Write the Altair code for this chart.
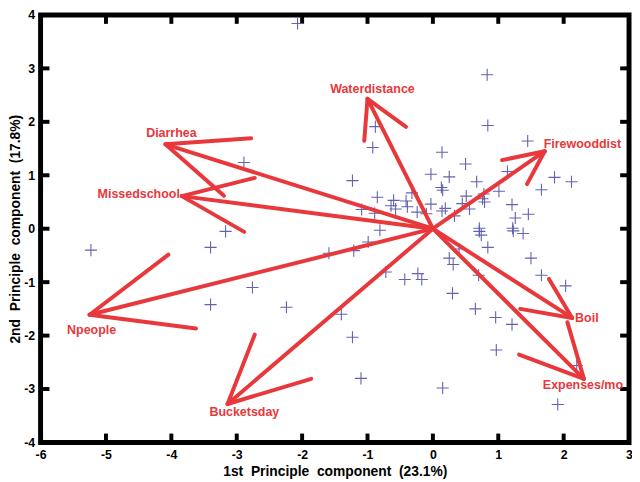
import math
import altair as alt
import pandas as pd

# ---- principal component scores (observations) ----
PC1 = [-2.07, 0.83, 0.84, 1.45, -0.92, -0.88, -2.89, -3.17, -3.40, -5.23,
       -2.76, -3.40, -2.24, -1.59, -1.21, -0.99, -0.81, -0.72, -0.43, -0.23,
       -0.17, -1.40, -1.23, -1.10, 0.15, 0.97, 1.21, 2.20, 1.91, 0.96,
       0.65, 0.30, 0.70, 0.25, 0.31, 0.40, 0.84, 1.50, 1.66, 2.03,
       0.71, 0.74, 1.23, 1.38, -1.23, -0.85, -0.60, -0.41, -0.32, -0.64,
       -0.57, -1.09, -0.89, -0.39, -0.24, -0.10, -0.03, -0.03, 0.14, 0.50,
       0.25, 0.67, 0.13, 0.15, 1.14, 1.01, 0.78, 0.51, 0.45, 0.79,
       0.56, 1.21, 1.26, 1.46, 1.66, 1.86, 2.12, 0.14, 0.19, 0.33,
       0.71, 1.22, 0.76]
PC2 = [3.84, 2.88, 1.93, 1.64, 1.52, 1.91, 1.24, -0.05, -0.35, -0.40,
       -1.10, -1.42, -1.47, -0.46, -0.41, -0.25, -0.03, -0.81, -0.95, -0.84,
       -0.95, -1.60, -2.03, -2.80, -2.98, -2.27, -1.79, -2.56, -3.29, -1.66,
       -1.50, -1.21, -0.87, -0.55, -0.67, -0.38, -0.35, -0.55, -0.87, -1.07,
       -0.05, -0.12, -0.04, -0.09, 0.90, 0.59, 0.53, 0.52, 0.67, 0.43,
       0.37, 0.36, 0.29, 0.41, 0.31, 0.28, 1.02, 0.46, 1.43, 1.21,
       0.97, 0.88, 0.77, 0.72, 1.07, 0.70, 0.65, 0.61, 0.47, 0.50,
       0.37, 0.45, 0.20, 0.27, 0.73, 0.96, 0.88, 0.33, 0.38, 0.24,
       0.01, 0.01, 0.56]

# ---- variable loadings (arrow tips) ----
VAR_NAMES = ["Waterdistance", "Firewooddist", "Diarrhea", "Missedschool",
             "Npeople", "Bucketsday", "Boil", "Expenses/mo"]
LOAD1 = [-1.00, 1.71, -4.09, -3.84, -5.25, -3.14, 2.13, 2.31]
LOAD2 = [2.43, 1.45, 1.58, 0.61, -1.61, -3.28, -1.67, -2.81]

X_TICKS = [-6, -5, -4, -3, -2, -1, 0, 1, 2, 3]
Y_TICKS = [-4, -3, -2, -1, 0, 1, 2, 3, 4]

# label placement style (align, dx, dy) relative to arrow tip
LABEL_STYLE = {
    "Waterdistance": ("center", 5, -10),
    "Firewooddist": ("left", -1, -7),
    "Diarrhea": ("center", 6, -11),
    "Missedschool": ("right", -2, -2),
    "Npeople": ("center", 2, 16),
    "Bucketsday": ("center", 17, 8),
    "Boil": ("left", 3, 0),
    "Expenses/mo": ("center", -1, 6),
}

RED = "#e8383b"
BLUE = "#5a5aad"
FONT = "Liberation Sans"
W, H = 596, 433
XDOM, YDOM = (-6, 3), (-4, 4)
TICK_PX = 9

# ---- arrow geometry (quiver-style heads, computed in data space) ----
HEAD_FRAC = 0.30
HEAD_ANG = math.radians(26)
seg_rows = []
for name, tx, ty in zip(VAR_NAMES, LOAD1, LOAD2):
    L = math.hypot(tx, ty)
    bx, by = -tx / L, -ty / L
    hl = HEAD_FRAC * L
    seg_rows.append(dict(sx=0.0, sy=0.0, ex=tx, ey=ty))
    for s in (1, -1):
        c, si = math.cos(s * HEAD_ANG), math.sin(s * HEAD_ANG)
        hx = bx * c - by * si
        hy = bx * si + by * c
        seg_rows.append(dict(sx=tx, sy=ty, ex=tx + hl * hx, ey=ty + hl * hy))
segs = pd.DataFrame(seg_rows)
scores = pd.DataFrame({"pc1": PC1, "pc2": PC2})
loads = pd.DataFrame({"name": VAR_NAMES, "l1": LOAD1, "l2": LOAD2})

# ---- inward tick marks on all four sides (from the tick lists) ----
tx_len = TICK_PX * (XDOM[1] - XDOM[0]) / W
ty_len = TICK_PX * (YDOM[1] - YDOM[0]) / H
tick_rows = []
for t in X_TICKS[1:-1]:
    tick_rows.append(dict(ta=t, tb=t, tc=YDOM[0], td=YDOM[0] + ty_len))
    tick_rows.append(dict(ta=t, tb=t, tc=YDOM[1], td=YDOM[1] - ty_len))
for t in Y_TICKS[1:-1]:
    tick_rows.append(dict(ta=XDOM[0], tb=XDOM[0] + tx_len, tc=t, td=t))
    tick_rows.append(dict(ta=XDOM[1], tb=XDOM[1] - tx_len, tc=t, td=t))
ticks_df = pd.DataFrame(tick_rows)

xscale = alt.Scale(domain=list(XDOM), nice=False, zero=False)
yscale = alt.Scale(domain=list(YDOM), nice=False, zero=False)

axis_common = dict(ticks=False, domain=False, grid=False,
                   labelFont=FONT, labelFontSize=12.5, labelFontWeight="bold",
                   labelColor="black", labelFlush=False, labelOverlap=False,
                   labelExpr="datum.value + ''",
                   titleFont=FONT, titleFontSize=14, titleFontWeight="bold",
                   titleColor="black")

x_bottom = alt.Axis(values=X_TICKS, labelPadding=6,
                    title="1st\u00a0 Principle\u00a0 component\u00a0 (23.1%)",
                    titlePadding=4, **axis_common)
y_left = alt.Axis(values=Y_TICKS, labelPadding=6,
                  title="2nd\u00a0 Principle\u00a0 component\u00a0 (17.8%)",
                  titlePadding=1, **axis_common)

points = alt.Chart(scores).mark_point(
    shape="M-1,0H1M0,-1V1", filled=False, size=150, strokeWidth=1.1,
    color=BLUE, opacity=0.95
).encode(
    x=alt.X("pc1:Q", scale=xscale, axis=x_bottom),
    y=alt.Y("pc2:Q", scale=yscale, axis=y_left),
)

arrows = alt.Chart(segs).mark_rule(color=RED, strokeWidth=4, strokeCap="round").encode(
    x=alt.X("sx:Q", scale=xscale),
    y=alt.Y("sy:Q", scale=yscale),
    x2="ex:Q",
    y2="ey:Q",
)

tick_marks = alt.Chart(ticks_df).mark_rule(color="#000000", strokeWidth=4, opacity=1).encode(
    x=alt.X("ta:Q", scale=xscale),
    y=alt.Y("tc:Q", scale=yscale),
    x2="tb:Q",
    y2="td:Q",
)

labels = []
for name in VAR_NAMES:
    align, dx, dy = LABEL_STYLE[name]
    labels.append(
        alt.Chart(loads[loads["name"] == name]).mark_text(
            align=align, baseline="middle", dx=dx, dy=dy, font=FONT,
            fontSize=12.6, fontWeight="bold", color=RED
        ).encode(
            x=alt.X("l1:Q", scale=xscale),
            y=alt.Y("l2:Q", scale=yscale),
            text="name:N",
        )
    )

chart = alt.layer(tick_marks, points, arrows, *labels).properties(
    width=W, height=H,
    padding={"left": 33, "top": 4, "right": 3, "bottom": 37},
    autosize=alt.AutoSizeParams(type="none"),
    background="white",
).configure_view(stroke="#000000", strokeWidth=5)

chart.save("out.html", embed_options={"renderer": "svg", "actions": False})
